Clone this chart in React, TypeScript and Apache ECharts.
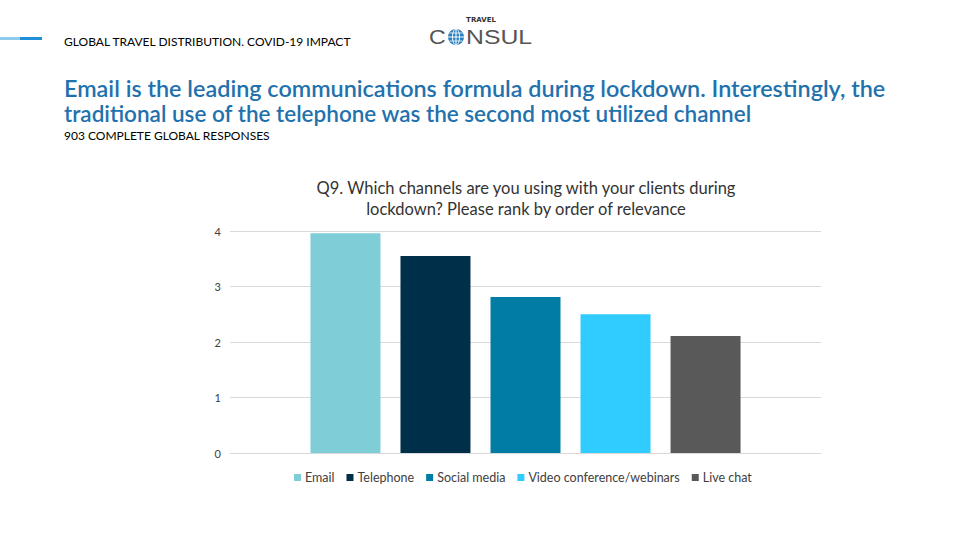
import React, { useEffect, useRef } from "react";
import * as echarts from "echarts";

const categories = ["Q9"];
const seriesNames = ["Email", "Telephone", "Social media", "Video conference/webinars", "Live chat"];
const seriesValues = [3.96, 3.55, 2.81, 2.5, 2.11];
const seriesColors = ["#7fcdd7", "#003049", "#017ca4", "#30cbff", "#595959"];
const yTicks = [0, 1, 2, 3, 4];

const FONT = "Lato, 'Open Sans', sans-serif";

export default function App() {
  const ref = useRef<HTMLDivElement>(null);
  useEffect(() => {
    if (!ref.current) return;
    const chart = echarts.init(ref.current, undefined, { renderer: "svg" });
    const series = seriesNames.map((name, i) => ({
      name,
      type: "bar",
      data: [seriesValues[i]],
      barWidth: 70,
      barGap: "28.6%",
      itemStyle: { color: seriesColors[i] },
    }));
    chart.setOption({
      animation: false,
      textStyle: { fontFamily: FONT },
      title: {
        text: "Q9. Which channels are you using with your clients during\nlockdown? Please rank by order of relevance",
        left: 521,
        top: 172,
        textAlign: "center",
        textStyle: { fontSize: 16.5, fontWeight: "normal", color: "#333333", lineHeight: 21, fontFamily: FONT },
      },
      legend: {
        top: 466,
        left: 289,
        icon: "rect",
        itemWidth: 7,
        itemHeight: 7,
        itemGap: 12,
        textStyle: { fontSize: 12.5, color: "#404040", fontFamily: FONT, padding: [0, 0, 0, -1] },
        data: seriesNames,
      },
      grid: { left: 230, right: 139, top: 231, bottom: 87 },
      xAxis: {
        type: "category",
        data: categories,
        axisLine: { show: true, lineStyle: { color: "#d9d9d9" } },
        axisTick: { show: false },
        axisLabel: { show: false },
      },
      yAxis: {
        type: "value",
        min: yTicks[0],
        max: yTicks[yTicks.length - 1],
        interval: 1,
        axisLine: { show: false },
        axisTick: { show: false },
        axisLabel: { color: "#404040", fontSize: 11, margin: 9, fontFamily: FONT },
        splitLine: { lineStyle: { color: "#d9d9d9" } },
      },
      series,
      graphic: [
        { type: "rect", shape: { x: 0, y: 37, width: 20, height: 3 }, style: { fill: "#8ec9ee" } },
        { type: "rect", shape: { x: 20, y: 37, width: 22, height: 3 }, style: { fill: "#1e8fd8" } },
        {
          type: "text", x: 64, y: 41,
          style: { text: "GLOBAL TRAVEL DISTRIBUTION. COVID-19 IMPACT", fontSize: 12, fill: "#000", fontFamily: FONT, verticalAlign: "middle" },
        },
        {
          type: "text", x: 481, y: 20,
          style: { text: "TRAVEL", fontSize: 7, fontWeight: "bold", fill: "#333", fontFamily: "'DejaVu Sans', sans-serif", align: "center", verticalAlign: "middle" },
        },
        {
          type: "text", x: 429, y: 37, scaleX: 1.1,
          style: { text: "C", fontSize: 21, fill: "#555", fontFamily: "'Liberation Sans', sans-serif", verticalAlign: "middle" },
        },
        { type: "circle", shape: { cx: 456, cy: 37, r: 8 }, style: { fill: "#2a7fc0" } },
        { type: "ellipse", shape: { cx: 456, cy: 37, rx: 3.5, ry: 8 }, style: { fill: "none", stroke: "#fff", lineWidth: 1 } },
        { type: "line", shape: { x1: 448, y1: 37, x2: 464, y2: 37 }, style: { stroke: "#fff", lineWidth: 1 } },
        { type: "line", shape: { x1: 456, y1: 29, x2: 456, y2: 45 }, style: { stroke: "#fff", lineWidth: 1 } },
        { type: "line", shape: { x1: 449.5, y1: 33, x2: 462.5, y2: 33 }, style: { stroke: "#fff", lineWidth: 0.8 } },
        { type: "line", shape: { x1: 449.5, y1: 41, x2: 462.5, y2: 41 }, style: { stroke: "#fff", lineWidth: 0.8 } },
        {
          type: "text", x: 466, y: 37, scaleX: 1.18,
          style: { text: "NSUL", fontSize: 21, fill: "#555", fontFamily: "'Liberation Sans', sans-serif", verticalAlign: "middle" },
        },
        {
          type: "text", x: 64, y: 88, scaleX: 1.04,
          style: { text: "Email is the leading communications formula during lockdown. Interestingly, the", fontSize: 22.5, fontWeight: 600, fill: "#1f72ad", fontFamily: FONT, verticalAlign: "middle" },
        },
        {
          type: "text", x: 64, y: 113,
          style: { text: "traditional use of the telephone was the second most utilized channel", fontSize: 22.5, fontWeight: 600, fill: "#1f72ad", fontFamily: FONT, verticalAlign: "middle" },
        },
        {
          type: "text", x: 64, y: 135,
          style: { text: "903 COMPLETE GLOBAL RESPONSES", fontSize: 12, fill: "#000", fontFamily: FONT, verticalAlign: "middle" },
        },
      ],
    });
    return () => chart.dispose();
  }, []);
  return <div ref={ref} style={{ width: 960, height: 540, position: "absolute", left: 0, top: 0 }} />;
}
